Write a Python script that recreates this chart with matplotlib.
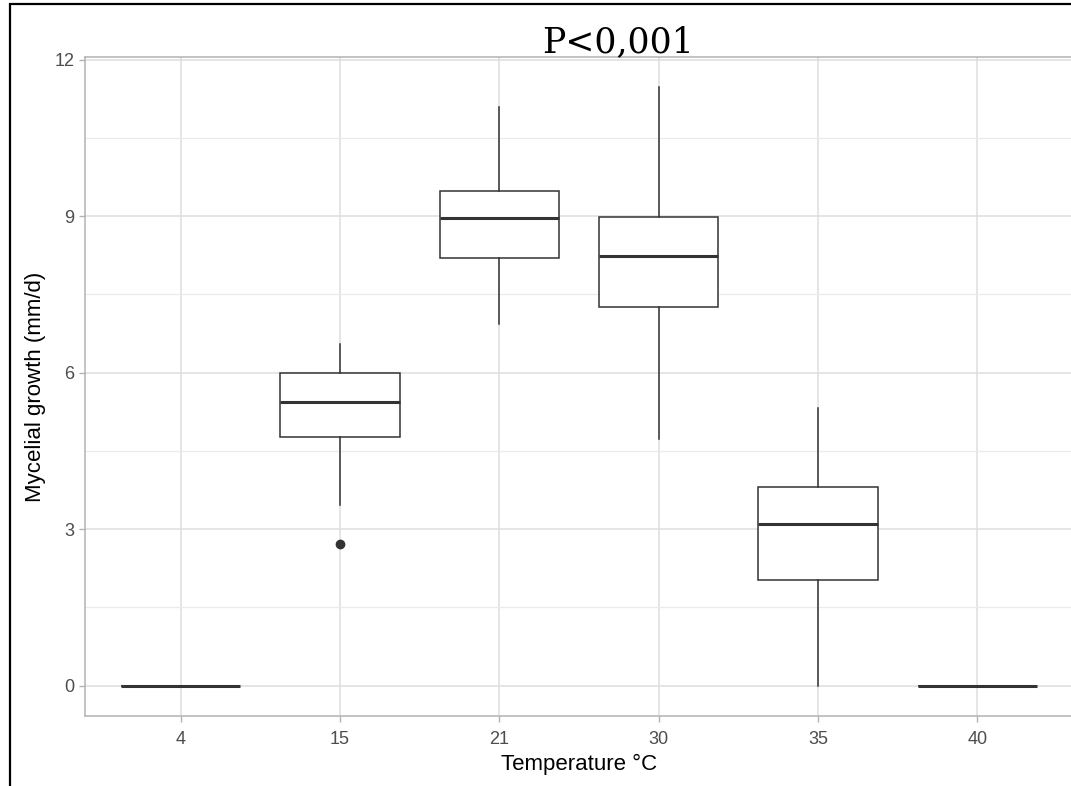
import matplotlib
matplotlib.use("Agg")
import matplotlib.pyplot as plt
from matplotlib.patches import Rectangle

categories = ["4", "15", "21", "30", "35", "40"]
q1 = [0.0, 4.77, 8.20, 7.25, 2.03, 0.0]
med = [0.0, 5.44, 8.97, 8.24, 3.10, 0.0]
q3 = [0.0, 6.00, 9.49, 8.99, 3.81, 0.0]
whislo = [0.0, 3.47, 6.94, 4.72, 0.0, 0.0]
whishi = [0.0, 6.54, 11.10, 11.48, 5.33, 0.0]
fliers = [[], [2.72], [], [], [], []]
yticks = [0, 3, 6, 9, 12]
minor_yticks = [1.5, 4.5, 7.5, 10.5]

W, H = 1071, 786
fig = plt.figure(figsize=(W / 100, H / 100), dpi=100)
fig.patch.set_facecolor("white")

# black frame of screenshot
fig.patches.append(Rectangle((9.5 / W, -0.1), 1.2, 1 - (-0.1) - 4 / H, transform=fig.transFigure,
                             fill=False, edgecolor="black", linewidth=1.6, zorder=0))

left, right, top, bottom = 85, 1073, 57, 716
ax = fig.add_axes([left / W, 1 - bottom / H, (right - left) / W, (bottom - top) / H])

stats = []
for i in range(len(categories)):
    stats.append(dict(med=med[i], q1=q1[i], q3=q3[i], whislo=whislo[i], whishi=whishi[i], fliers=fliers[i]))

positions = list(range(1, len(categories) + 1))
ec = "#333333"
ax.bxp(stats, positions=positions, widths=0.75, showcaps=False, patch_artist=True,
       boxprops=dict(facecolor="white", edgecolor=ec, linewidth=1.1),
       medianprops=dict(color=ec, linewidth=2.2, solid_capstyle="butt"),
       whiskerprops=dict(color=ec, linewidth=1.1),
       flierprops=dict(marker="o", markerfacecolor=ec, markeredgecolor=ec, markersize=6),
       zorder=3)

ax.set_xlim(0.4, len(categories) + 0.6)
ax.set_ylim(-0.58, 12.05)
ax.set_xticks(positions)
ax.set_xticklabels(categories)
ax.set_yticks(yticks)
ax.set_yticks(minor_yticks, minor=True)

ax.grid(True, which="major", color="#DEDEDE", linewidth=1.1, zorder=0)
ax.grid(True, which="minor", axis="y", color="#EBEBEB", linewidth=0.9, zorder=0)
ax.set_axisbelow(True)
for s in ax.spines.values():
    s.set_color("#B3B3B3")
    s.set_linewidth(1.1)

ax.tick_params(axis="both", which="major", color="#B3B3B3", length=4.5, width=1,
               labelcolor="#4D4D4D", labelsize=13)
ax.tick_params(axis="x", which="major", pad=6)
ax.tick_params(axis="y", which="major", pad=3)
ax.tick_params(axis="y", which="minor", length=0)
for lab in ax.get_xticklabels() + ax.get_yticklabels():
    lab.set_family("Liberation Sans")

ax.set_xlabel("Temperature °C", fontsize=16, family="Liberation Sans", color="black", va="center")
ax.set_ylabel("Mycelial growth (mm/d)", fontsize=16, family="Liberation Sans", color="black", va="center")
ax.xaxis.set_label_coords(0.5, (bottom - 764) / (bottom - top))
ax.yaxis.set_label_coords((36 - left) / (right - left), 0.5)

fig.text(618 / W, 1 - 42 / H, "P<0,001", fontsize=25, family="DejaVu Serif", ha="center", va="center",
         color="black")

fig.savefig("out.png", dpi=100)
